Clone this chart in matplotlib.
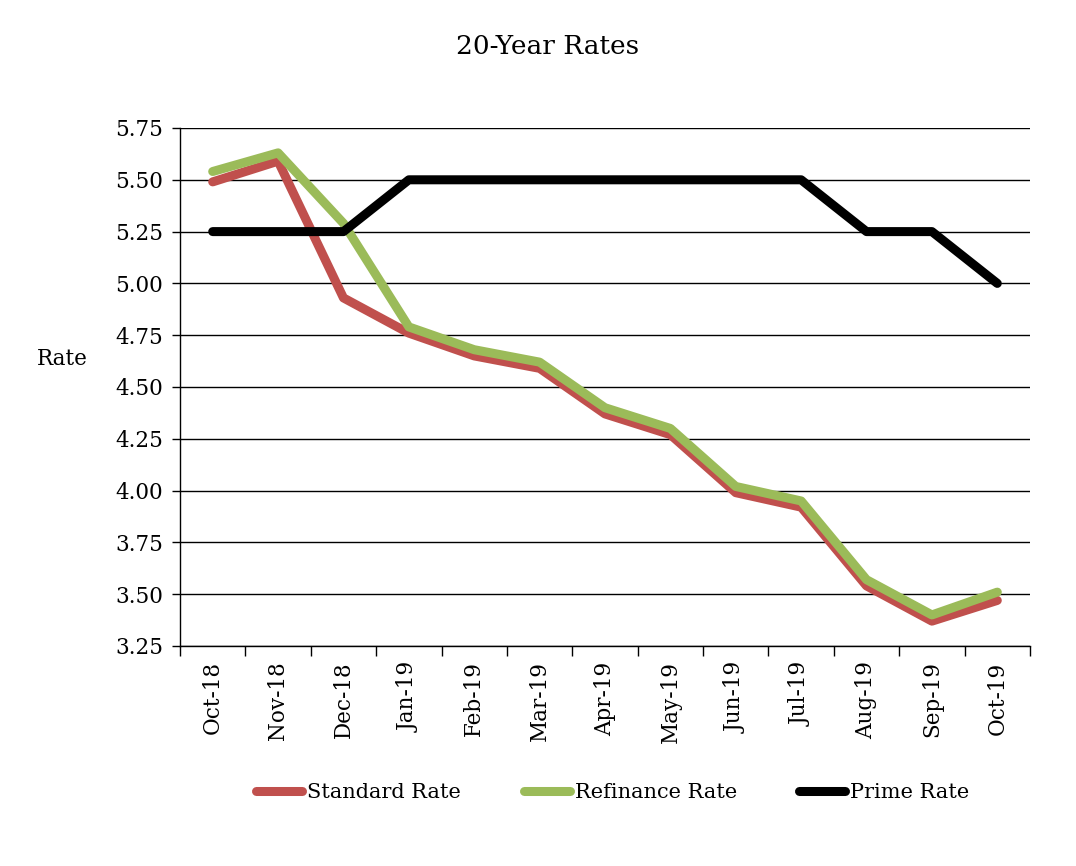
import matplotlib
matplotlib.use("Agg")
import matplotlib.pyplot as plt
import numpy as np

months = ["Oct-18", "Nov-18", "Dec-18", "Jan-19", "Feb-19", "Mar-19", "Apr-19",
          "May-19", "Jun-19", "Jul-19", "Aug-19", "Sep-19", "Oct-19"]
standard_rate = [5.49, 5.59, 4.93, 4.76, 4.65, 4.59, 4.37, 4.27, 3.99, 3.92, 3.54, 3.37, 3.47]
refinance_rate = [5.54, 5.63, 5.29, 4.79, 4.68, 4.62, 4.40, 4.30, 4.02, 3.95, 3.57, 3.40, 3.51]
prime_rate = [5.25, 5.25, 5.25, 5.50, 5.50, 5.50, 5.50, 5.50, 5.50, 5.50, 5.25, 5.25, 5.00]
y_ticks = [3.25, 3.50, 3.75, 4.00, 4.25, 4.50, 4.75, 5.00, 5.25, 5.50, 5.75]

plt.rcParams['font.family'] = ['DejaVu Serif']

fig = plt.figure(figsize=(10.76, 8.66), dpi=100)
ax = fig.add_axes([180/1076, 1-646/866, 850/1076, 518/866])

x = np.arange(len(months))
lw = 6.5
ax.plot(x, standard_rate, color="#C0504D", lw=lw, solid_capstyle="round", solid_joinstyle="round", label="Standard Rate", zorder=3)
ax.plot(x, refinance_rate, color="#9BBB59", lw=lw, solid_capstyle="round", solid_joinstyle="round", label="Refinance Rate", zorder=3)
ax.plot(x, prime_rate, color="black", lw=lw, solid_capstyle="round", solid_joinstyle="round", label="Prime Rate", zorder=3)

ax.set_xlim(-0.5, len(months) - 0.5)
ax.set_ylim(3.25, 5.75)
ax.set_yticks(y_ticks)
ax.set_yticklabels([f"{v:.2f}" for v in y_ticks], fontsize=15.5)
ax.yaxis.grid(True, color="black", lw=1)
ax.set_axisbelow(True)

ax.set_xticks(x)
ax.set_xticklabels(months, rotation=90, fontsize=15.5)
ax.set_xticks(np.arange(-0.5, len(months)), minor=True)
ax.tick_params(axis="x", which="major", length=0, pad=11)
ax.tick_params(axis="x", which="minor", length=7, width=1, direction="out", color="black")
ax.tick_params(axis="y", length=6, width=1, direction="out", pad=6)

for s in ["top", "right"]:
    ax.spines[s].set_visible(False)
ax.spines["left"].set_linewidth(1)
ax.spines["bottom"].set_linewidth(1)

ax.set_ylabel("Rate", rotation=0, fontsize=15.5, va="center", ha="center")
ax.yaxis.set_label_coords(-0.138, 0.555)

fig.text(548/1076, 1-46/866, "20-Year Rates", ha="center", va="center", fontsize=19)

fig.legend(loc="center", bbox_to_anchor=(613/1076, 1-793/866), ncol=3, frameon=False,
           fontsize=15, handlelength=2.2, handletextpad=0.25, columnspacing=3.0)

fig.savefig("out.png", dpi=100)
